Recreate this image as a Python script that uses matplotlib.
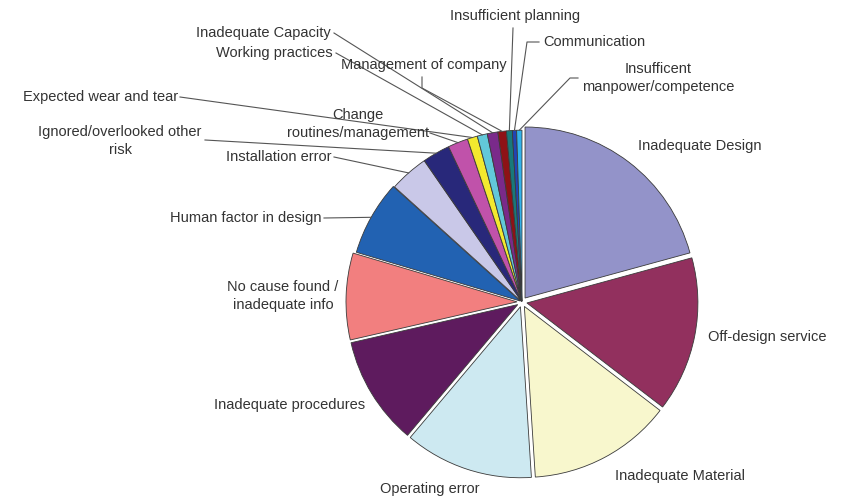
import matplotlib
matplotlib.use("Agg")
import matplotlib.pyplot as plt
import numpy as np

plt.rcParams['font.family'] = ['Liberation Sans', 'DejaVu Sans']

# causes, clockwise from 12 o'clock (share of cases, %)
causes = ["Inadequate Design", "Off-design service", "Inadequate Material",
          "Operating error", "Inadequate procedures",
          "No cause found /\ninadequate info", "Human factor in design",
          "Installation error", "Ignored/overlooked other\nrisk",
          "Change\nroutines/management", "Expected wear and tear",
          "Working practices", "Inadequate Capacity", "Management of company",
          "Insufficient planning", "Communication",
          "Insufficent\nmanpower/competence"]
shares = [20.8, 14.7, 13.6, 12.2, 10.3, 8.2, 7.1, 3.7, 2.6, 1.9,
          0.95, 0.95, 1.0, 0.8, 0.55, 0.4, 0.5]
colors = ["#9393c9", "#92305e", "#f8f7cd", "#cde9f1", "#5e1b5e", "#f27f7f",
          "#2262b2", "#c9c8e8", "#28287a", "#c052aa", "#f3e92e", "#62c8d9",
          "#7a2a8a", "#8e1216", "#18797a", "#2244b4", "#33b3ea"]
# slice offsets (pixels, pie is drawn in pixel units)
explode = [5, 5, 5, 5, 5, 5, 2, 0.8, 0.8, 0.8,
           0.8, 0.8, 0.8, 0.8, 0.8, 0.8, 0.8]

H = 498
# label layout in pixel coords: text x, text y, ha, leader path (None = no leader)
layout = [
    (638, 146, "left", None),
    (708, 337, "left", None),
    (615, 476, "left", None),
    (430, 489, "center", None),
    (365, 405, "right", None),
    (283, 296, "center", None),
    (322, 218, "right", [(324, 218)]),
    (332, 157, "right", [(334, 157)]),
    (120, 141, "center", [(205, 140)]),
    (358, 124, "center", [(430, 133)]),
    (178, 97, "right", [(180, 97)]),
    (333, 53, "right", [(336, 53)]),
    (331, 33, "right", [(334, 33)]),
    (424, 65, "center", [(422, 77), (422, 88)]),
    (515, 16, "center", [(513, 28)]),
    (543, 42, "left", [(539, 42), (527, 42)]),
    (658, 78, "center", [(578, 78), (570, 78)]),
]

fig = plt.figure(figsize=(8.42, 4.98), dpi=100)
ax = fig.add_axes([0, 0, 1, 1])

wedges, _ = ax.pie(shares, colors=colors, startangle=90, counterclock=False,
                   explode=explode, center=(522, H - 302), radius=171,
                   wedgeprops=dict(edgecolor="#3a3a3a", linewidth=0.6))
ax.set_xlim(0, 842)
ax.set_ylim(0, H)
ax.set_aspect("equal")
ax.axis("off")

for w, lab, (tx, ty, ha, path) in zip(wedges, causes, layout):
    ax.text(tx, H - ty, lab, ha=ha, va="center", fontsize=10.5,
            color="#333333", linespacing=1.35)
    if path:
        mid = np.deg2rad((w.theta1 + w.theta2) / 2)
        ex = w.center[0] + w.r * np.cos(mid)
        ey = w.center[1] + w.r * np.sin(mid)
        xs = [p[0] for p in path] + [ex]
        ys = [H - p[1] for p in path] + [ey]
        ax.plot(xs, ys, color="#555555", lw=0.8)

fig.savefig("out.png", dpi=100)
